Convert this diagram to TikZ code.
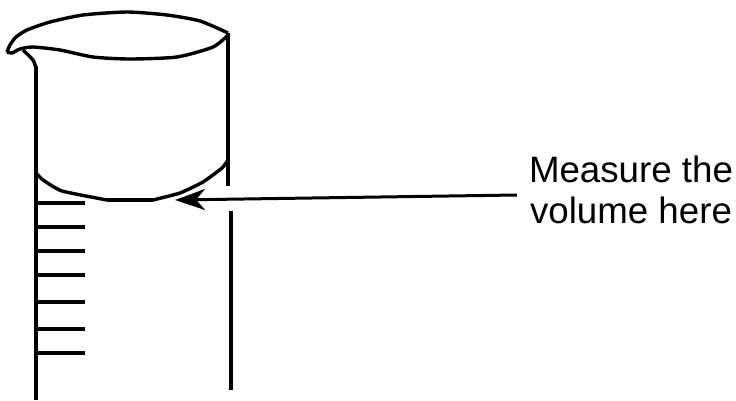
\documentclass[tikz,border=0pt]{standalone}
\usepackage{fontspec}
\setmainfont{Liberation Sans}
\usetikzlibrary{arrows.meta}
\tikzset{
	wall/.style = {
		draw=black,
		line width=3.2pt
	},
	outline/.style = {
		draw=black,
		line width=3.4pt,
		line join=round
	},
	tick_mark/.style = {
		draw=black,
		line width=3.2pt
	},
	node_label/.style = {
		align=center,
		inner xsep=12pt,
		inner ysep=0pt,
		font=\fontsize{36.7}{41.5}\selectfont
	},
}
\begin{document}
\begin{tikzpicture}[x=1pt,y=-1pt,>={Stealth[length=30pt,width=21pt,inset=9pt]}]
\useasboundingbox (0,0) rectangle (736,400);
% cylinder
\draw [wall] (36,66) -- (36,400);
\draw [wall] (228,33) -- (228,186);
\draw [wall] (231,211) -- (231,390);
% rim and spout
\draw [outline] plot [smooth, tension=0.4] coordinates {(7,52) (10,45) (16,37) (27,30) (50,22) (83,15) (127,12) (167,15) (200,21) (228,33)};
\draw [outline] plot [smooth, tension=0.4] coordinates {(228,35) (213,47) (177,57) (130,59) (93,57) (60,50) (33,47) (20,49) (12,53) (7,52)};
\draw [outline] plot [smooth, tension=0.4] coordinates {(23,50) (33,60) (36,68)};
% meniscus
\draw [outline] plot [smooth, tension=0.3] coordinates {(36,173) (43,180) (62,191) (107,200)};
\draw [outline] (107,200) -- (153,200);
\draw [outline] plot [smooth, tension=0.3] coordinates {(153,200) (180,193) (203,182) (222,168) (228,160)};
% scale
\foreach \y in {203,227,251,275,302,329,353}
	\draw [tick_mark] (36,\y) -- (85,\y);
% label
\node [node_label] (measure_label) at (631,190) {Measure the\\volume here};
\coordinate (meniscus_point) at (175,200);
\draw [->, line width=3pt] ([yshift=-5pt]measure_label.west) -- (meniscus_point);
\end{tikzpicture}
\end{document}
